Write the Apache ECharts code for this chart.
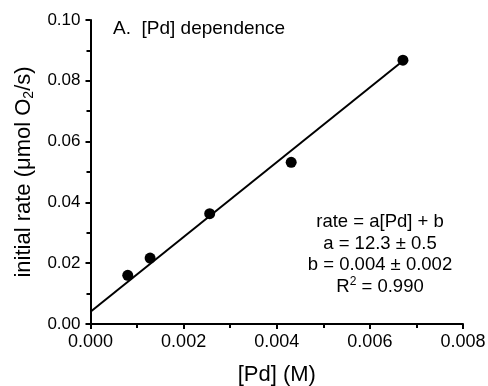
<!DOCTYPE html>
<html><head><meta charset="utf-8">
<script src="https://cdn.jsdelivr.net/npm/echarts@6/dist/echarts.min.js"></script>
<style>html,body{margin:0;padding:0;background:#fff}#c{width:488px;height:386px}</style>
</head><body><div id="c"></div>
<script>
const pdConc = [0.0008, 0.00128, 0.00256, 0.00431, 0.00671];
const initialRate = [0.016, 0.0217, 0.0363, 0.0532, 0.0868];
const fitX = [0, 0.0067];
const fitY = [0.004, 0.0864];
const xTicks = ['0.000','0.002','0.004','0.006','0.008'];
const yTicks = ['0.00','0.02','0.04','0.06','0.08','0.10'];
const panelTitle = 'A.  [Pd] dependence';
const fitLines = ['rate = a[Pd] + b', 'a = 12.3 \u00b1 0.5', 'b = 0.004 \u00b1 0.002'];

const F = 'Liberation Sans, Arial, Helvetica, sans-serif';
const chart = echarts.init(document.getElementById('c'), null, {renderer:'canvas'});
chart.setOption({
  animation:false,
  backgroundColor:'#fff',
  grid:{left:90.5, right:25, top:20, bottom:62, containLabel:false, outerBoundsMode:'none'},
  xAxis:{type:'value', min:0, max:0.008, interval:0.002,
    axisLine:{show:true, onZero:false, lineStyle:{color:'#000', width:2}},
    axisTick:{show:true, inside:false, length:5, lineStyle:{color:'#000', width:2}},
    minorTick:{show:true, splitNumber:2, length:4, lineStyle:{color:'#000', width:2}},
    splitLine:{show:false},
    axisLabel:{margin:9, color:'#000', fontFamily:F, fontSize:18,
      formatter:(v)=>xTicks[Math.round(v/0.002)]},
    name:'[Pd] (M)', nameLocation:'middle', nameGap:40,
    nameTextStyle:{color:'#000', fontFamily:F, fontSize:22}
  },
  yAxis:{type:'value', min:0, max:0.1, interval:0.02,
    axisLine:{show:true, onZero:false, lineStyle:{color:'#000', width:2}},
    axisTick:{show:true, inside:false, length:5, lineStyle:{color:'#000', width:2}},
    minorTick:{show:true, splitNumber:2, length:4, lineStyle:{color:'#000', width:2}},
    splitLine:{show:false},
    axisLabel:{margin:10, color:'#000', fontFamily:F, fontSize:17,
      formatter:(v)=>yTicks[Math.round(v/0.02)]},
    name:'initial rate (\u03bcmol O{s|2}/s)', nameLocation:'middle', nameGap:52,
    nameTextStyle:{color:'#000', fontFamily:F, fontSize:22,
      rich:{s:{fontFamily:F, fontSize:14, padding:[12,0,0,0], color:'#000'}}}
  },
  series:[
    {type:'scatter', data:pdConc.map((x,i)=>[x, initialRate[i]]), symbol:'circle', symbolSize:11,
      itemStyle:{color:'#000', opacity:1}, z:3},
    {type:'line', data:fitX.map((x,i)=>[x, fitY[i]]), symbol:'none',
      lineStyle:{color:'#000', width:2}, clip:false, z:2}
  ],
  graphic:[
    {type:'text', left:113, top:19, style:{text:panelTitle, fontFamily:F, fontSize:19, fill:'#000'}},
    {type:'text', x:380, y:222, style:{text:fitLines[0], fontFamily:F, fontSize:18.5, fill:'#000', align:'center', verticalAlign:'middle'}},
    {type:'text', x:380, y:243.5, style:{text:fitLines[1], fontFamily:F, fontSize:18.5, fill:'#000', align:'center', verticalAlign:'middle'}},
    {type:'text', x:380, y:265, style:{text:fitLines[2], fontFamily:F, fontSize:18.5, fill:'#000', align:'center', verticalAlign:'middle'}},
    {type:'text', x:380, y:286.5, style:{text:'R{p|2} = 0.990', fontFamily:F, fontSize:18.5, fill:'#000', align:'center', verticalAlign:'middle',
      rich:{p:{fontFamily:F, fontSize:12, padding:[0,0,9,0], fill:'#000'}}}}
  ]
});
</script></body></html>
